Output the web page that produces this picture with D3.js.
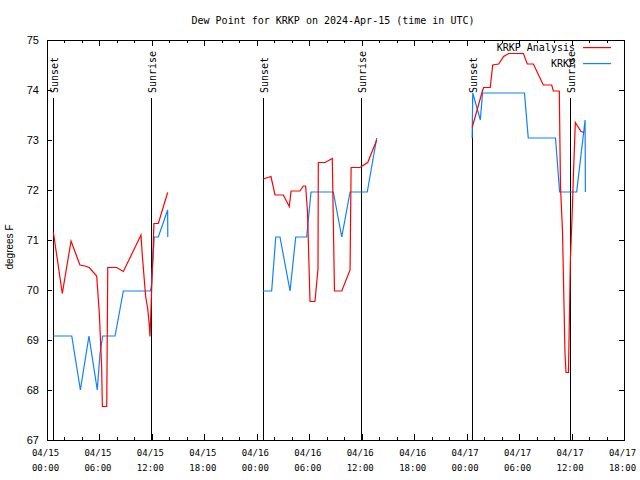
<!DOCTYPE html>
<html><head><meta charset="utf-8">
<script src="https://cdn.jsdelivr.net/npm/d3@7"></script>
<style>body{margin:0;background:#fff}svg{display:block}</style>
</head><body><div id="chart"></div>
<script>
const chartTitle = "Dew Point for KRKP on 2024-Apr-15 (time in UTC)";
const yAxisLabel = "degrees F";
const xDomain = ["2024-04-15 00:00", "2024-04-17 18:00"];
const yDomain = [67, 75];
const yTicks = [67, 68, 69, 70, 71, 72, 73, 74, 75];
const seriesNames = ["KRKP Analysis", "KRKP"];
const seriesColors = ["#ff0000", "#0f80ff"];
const sunsetTimes = ["2024-04-15 00:42", "2024-04-16 00:43", "2024-04-17 00:38"];
const sunriseTimes = ["2024-04-15 11:54", "2024-04-16 11:54", "2024-04-17 11:51"];

const analysisTimes = [
  "2024-04-15 00:44","2024-04-15 01:45","2024-04-15 02:45","2024-04-15 03:46","2024-04-15 04:21","2024-04-15 04:50",
  "2024-04-15 05:41","2024-04-15 05:59","2024-04-15 06:15","2024-04-15 06:20","2024-04-15 06:50","2024-04-15 06:57",
  "2024-04-15 07:58","2024-04-15 08:44","2024-04-15 10:45","2024-04-15 10:54","2024-04-15 11:17","2024-04-15 11:31",
  "2024-04-15 11:40","2024-04-15 11:47","2024-04-15 12:14","2024-04-15 12:44","2024-04-15 13:48",
  "2024-04-15 18:00",
  "2024-04-16 00:43","2024-04-16 01:37","2024-04-16 02:05","2024-04-16 03:02","2024-04-16 03:43","2024-04-16 03:55",
  "2024-04-16 04:56","2024-04-16 05:19","2024-04-16 05:35","2024-04-16 05:48","2024-04-16 06:05","2024-04-16 06:39",
  "2024-04-16 07:00","2024-04-16 07:02","2024-04-16 07:48","2024-04-16 08:38","2024-04-16 08:53","2024-04-16 09:43",
  "2024-04-16 10:40","2024-04-16 10:47","2024-04-16 11:48","2024-04-16 12:41","2024-04-16 13:43",
  "2024-04-16 18:00",
  "2024-04-17 00:38","2024-04-17 01:50","2024-04-17 01:57","2024-04-17 02:42","2024-04-17 02:59","2024-04-17 03:40",
  "2024-04-17 04:14","2024-04-17 04:49","2024-04-17 06:30","2024-04-17 06:56","2024-04-17 07:38","2024-04-17 08:46",
  "2024-04-17 09:44","2024-04-17 09:55","2024-04-17 10:36","2024-04-17 10:44","2024-04-17 10:58","2024-04-17 11:15",
  "2024-04-17 11:22","2024-04-17 11:39","2024-04-17 11:52","2024-04-17 12:04","2024-04-17 12:14","2024-04-17 12:26",
  "2024-04-17 13:05","2024-04-17 13:26"
];
const analysisValues = [
  71.15, 69.93, 70.98, 70.50, 70.48, 70.45,
  70.28, 69.54, 68.46, 67.67, 67.67, 70.45,
  70.45, 70.37, 71.10, 70.70, 69.87, 69.63,
  69.37, 69.07, 71.33, 71.33, 71.95,
  null,
  72.22, 72.27, 71.90, 71.90, 71.67, 71.98,
  71.98, 72.08, 72.08, 71.56, 69.77, 69.77,
  70.43, 72.55, 72.55, 72.63, 69.98, 69.98,
  70.40, 72.45, 72.45, 72.55, 73.00,
  null,
  73.25, 74.00, 74.05, 74.05, 74.50, 74.52,
  74.67, 74.73, 74.73, 74.52, 74.52, 74.10,
  74.10, 73.98, 73.98, 72.08, 71.17, 68.73,
  68.35, 68.35, 70.60, 71.50, 72.40, 73.35,
  73.17, 73.15
];

const obsTimes = [
  "2024-04-15 00:44","2024-04-15 02:50","2024-04-15 03:49","2024-04-15 04:48","2024-04-15 05:45","2024-04-15 06:04",
  "2024-04-15 06:22","2024-04-15 07:47","2024-04-15 08:44","2024-04-15 11:50","2024-04-15 11:57","2024-04-15 12:16",
  "2024-04-15 12:44","2024-04-15 13:48","2024-04-15 13:49",
  "2024-04-15 18:00",
  "2024-04-16 00:43","2024-04-16 01:42","2024-04-16 02:10","2024-04-16 02:39","2024-04-16 03:48","2024-04-16 04:27",
  "2024-04-16 05:42","2024-04-16 06:12","2024-04-16 08:45","2024-04-16 09:43","2024-04-16 10:40","2024-04-16 12:38",
  "2024-04-16 13:43",
  "2024-04-16 18:00",
  "2024-04-17 00:38","2024-04-17 00:42","2024-04-17 01:34","2024-04-17 01:49","2024-04-17 06:37","2024-04-17 07:03",
  "2024-04-17 10:10","2024-04-17 10:38","2024-04-17 12:35","2024-04-17 13:33","2024-04-17 13:35"
];
const obsValues = [
  69.08, 69.08, 68.00, 69.08, 68.00, 68.73,
  69.08, 69.08, 69.98, 69.98, 70.10, 71.06,
  71.06, 71.60, 71.06,
  null,
  69.98, 69.98, 71.06, 71.06, 69.98, 71.06,
  71.06, 71.96, 71.96, 71.06, 71.96, 71.96,
  73.04,
  null,
  73.04, 73.94, 73.40, 73.94, 73.94, 73.04,
  73.04, 71.96, 71.96, 73.40, 71.96
];

const W = 640, H = 480;
const M = {left: 47, right: 624, top: 40, bottom: 440};
const parse = d3.utcParse("%Y-%m-%d %H:%M");
const mono = "'DejaVu Sans Mono', monospace";
const sans = "'Liberation Sans', Arial, sans-serif";

const x = d3.scaleUtc().domain(xDomain.map(parse)).range([M.left, M.right]);
const y = d3.scaleLinear().domain(yDomain).range([M.bottom, M.top]);

const svg = d3.select("#chart").append("svg").attr("width", W).attr("height", H);
svg.append("rect").attr("width", W).attr("height", H).attr("fill", "#fff");

// title
svg.append("text").attr("x", 333).attr("y", 24).attr("text-anchor", "middle")
  .attr("font-family", mono).attr("font-size", 10).attr("fill", "#000").text(chartTitle);

// y label
svg.append("text").attr("transform", "translate(13,247) rotate(-90)").attr("text-anchor", "middle")
  .attr("font-family", sans).attr("font-size", 10).attr("fill", "#000").text(yAxisLabel);

function styleAxis(g) {
  g.select(".domain").remove();
  g.selectAll("line").attr("stroke", "#000").attr("shape-rendering", "crispEdges");
}

// x axes: minor (2h) and major (6h), bottom & top, inward ticks
const minorTicks = d3.utcHour.every(2).range(x.domain()[0], d3.utcHour.offset(x.domain()[1], 1));
const majorTicks = d3.utcHour.every(6).range(x.domain()[0], d3.utcHour.offset(x.domain()[1], 1));
svg.append("g").attr("transform", `translate(0,${M.bottom})`)
  .call(d3.axisBottom(x).tickValues(minorTicks).tickSize(-3).tickFormat("")).call(styleAxis);
svg.append("g").attr("transform", `translate(0,${M.top})`)
  .call(d3.axisTop(x).tickValues(minorTicks).tickSize(-3).tickFormat("")).call(styleAxis);
svg.append("g").attr("transform", `translate(0,${M.top})`)
  .call(d3.axisTop(x).tickValues(majorTicks).tickSize(-6).tickFormat("")).call(styleAxis);
const fmtD = d3.utcFormat("%m/%d"), fmtT = d3.utcFormat("%H:%M");
const xb = svg.append("g").attr("transform", `translate(0,${M.bottom})`)
  .call(d3.axisBottom(x).tickValues(majorTicks).tickSize(-6).tickFormat(""))
  .call(styleAxis);
xb.selectAll(".tick text").each(function(d) {
  const t = d3.select(this).attr("y", null).attr("dy", null)
    .attr("font-family", mono).attr("font-size", 9).attr("fill", "#000");
  t.append("tspan").attr("x", -2).attr("y", 16).text(fmtD(d));
  t.append("tspan").attr("x", -2).attr("y", 31).text(fmtT(d));
});

// y axes
svg.append("g").attr("transform", `translate(${M.left},0)`)
  .call(d3.axisLeft(y).tickValues(yTicks).tickSize(-5).tickPadding(8).tickFormat(d3.format("d")))
  .call(styleAxis)
  .selectAll("text").attr("font-family", sans).attr("font-size", 11).attr("fill", "#000");
svg.append("g").attr("transform", `translate(${M.right},0)`)
  .call(d3.axisRight(y).tickValues(yTicks).tickSize(-5).tickFormat(""))
  .call(styleAxis);

// sunset / sunrise lines
const events = sunsetTimes.map(t => ({t: parse(t), label: "Sunset"}))
  .concat(sunriseTimes.map(t => ({t: parse(t), label: "Sunrise"})));
const evG = svg.append("g");
events.forEach(e => {
  const ex = Math.round(x(e.t)) + 0.5;
  evG.append("line").attr("x1", ex).attr("x2", ex).attr("y1", M.bottom).attr("y2", 98)
    .attr("stroke", "#000").attr("shape-rendering", "crispEdges");
  evG.append("text").attr("transform", `translate(${ex + 4},93) rotate(-90)`)
    .attr("font-family", mono).attr("font-size", 10).attr("fill", "#000").text(e.label);
});

// data lines
const lineGen = d3.line().defined(d => d.v != null).x(d => x(d.t)).y(d => y(d.v));
const series = [
  analysisTimes.map((t, i) => ({t: parse(t), v: analysisValues[i]})),
  obsTimes.map((t, i) => ({t: parse(t), v: obsValues[i]}))
];
[1, 0].forEach(i => {
  svg.append("path").datum(series[i]).attr("d", lineGen).attr("fill", "none")
    .attr("stroke", seriesColors[i]).attr("stroke-width", 1.2);
});

// border
svg.append("rect").attr("x", M.left + 0.5).attr("y", M.top + 0.5)
  .attr("width", M.right - M.left).attr("height", M.bottom - M.top)
  .attr("fill", "none").attr("stroke", "#000").attr("shape-rendering", "crispEdges");

// legend
const legG = svg.append("g");
seriesNames.forEach((n, i) => {
  const ly = 47 + i * 16;
  legG.append("text").attr("x", 575).attr("y", ly + 4).attr("text-anchor", "end")
    .attr("font-family", mono).attr("font-size", 10).attr("fill", "#000").text(n);
  legG.append("rect").attr("x", 583).attr("y", ly).attr("width", 28).attr("height", 1.2)
    .attr("fill", seriesColors[i]);
});
</script>
</body></html>
